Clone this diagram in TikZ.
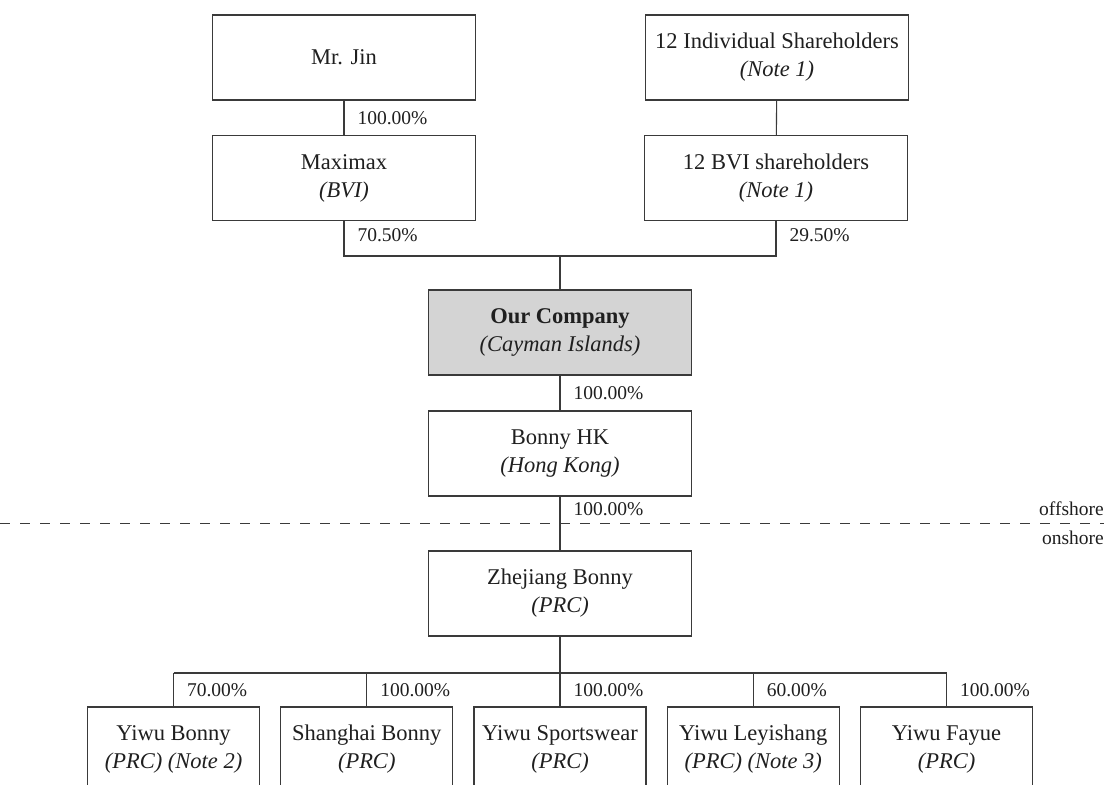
\documentclass[tikz,border=0pt]{standalone}
\usepackage{fontspec}
\setmainfont{Liberation Serif}
\usepackage{tikz}
\usetikzlibrary{positioning,calc}
\tikzset{
  every node/.style={font=\fontsize{19.5}{28}\selectfont}
}
\definecolor{linegray}{HTML}{3A3A3A}
\definecolor{boxgray}{HTML}{D4D4D4}

\begin{document}
\begin{tikzpicture}[x=1pt,y=-1pt]
  \tikzset{
    entity/.style={
      draw=linegray,
      fill=white,
      line width=1.1pt,
      minimum width=263pt,
      minimum height=85pt,
      inner sep=0pt,
      align=center,
      font=\fontsize{22.5}{28}\selectfont,
      text=black!88
    },
    subsid/.style={
      entity,
      minimum width=172pt
    },
    link/.style={
      draw=linegray,
      line width=1.1pt
    },
    pct/.style={
      anchor=west,
      inner sep=0pt,
      xshift=13pt,
      text=black!88
    }
  }
  \useasboundingbox (0,0) rectangle (1104,785);

  % Shareholders
  \node[entity] (jin) at (344,57.5) {Mr. Jin};
  \node[entity] (indiv) at (777,57.5) {12 Individual Shareholders\\\textit{(Note 1)}};
  \node[entity] (maximax) at (344,178) {Maximax\\\textit{(BVI)}};
  \node[entity] (bvi) at (776,178) {12 BVI shareholders\\\textit{(Note 1)}};

  % Holding chain
  \node[entity, fill=boxgray] (ourco) at (560,332.5) {\textbf{Our Company}\\\textit{(Cayman Islands)}};
  \node[entity] (bonnyhk) at (560,453.5) {Bonny HK\\\textit{(Hong Kong)}};
  \node[entity] (zhejiang) at (560,593.5) {Zhejiang Bonny\\\textit{(PRC)}};

  \coordinate (join) at (560,256);
  \coordinate (bus) at (560,673);

  \draw[link] (jin) -- node[pct] {100.00\%} (maximax);
  \draw[link] (indiv) -- (bvi);
  \draw[link] (maximax.south) |- node[pct, pos=0.2] {70.50\%} (join);
  \draw[link] (bvi.south) |- node[pct, pos=0.2] {29.50\%} (join);
  \draw[link] (join) -- (ourco);
  \draw[link] (ourco) -- node[pct] {100.00\%} (bonnyhk);
  \draw[link] (bonnyhk) -- node[pct, pos=0.24] {100.00\%} (zhejiang);
  \draw[link] (zhejiang) -- (bus);

  % Offshore / onshore divide
  \coordinate (divl) at (0,523);
  \coordinate (divr) at (1104,523);
  \draw[linegray, line width=1pt, dash pattern=on 10pt off 10pt] (divl) -- (divr);
  \node[anchor=east, inner sep=0pt, text=black!88] (offshore) at (1104,509) {offshore};
  \node[anchor=east, inner sep=0pt, text=black!88] (onshore) at (1104,538) {onshore};

  % Subsidiaries
  \foreach \i/\name/\reg/\share in {1/Yiwu Bonny/(PRC) (Note 2)/70.00,
      2/Shanghai Bonny/(PRC)/100.00, 3/Yiwu Sportswear/(PRC)/100.00,
      4/Yiwu Leyishang/(PRC) (Note 3)/60.00, 5/Yiwu Fayue/(PRC)/100.00} {
    \node[subsid] (sub\i) at ({560+193.25*(\i-3)},749.5) {\name\\\textit{\reg}};
    \draw[link] (sub\i.north |- bus) -- node[pct] {\share\%} (sub\i.north);
  }
  \draw[link] (sub1.north |- bus) -- (sub5.north |- bus);
\end{tikzpicture}
\end{document}
